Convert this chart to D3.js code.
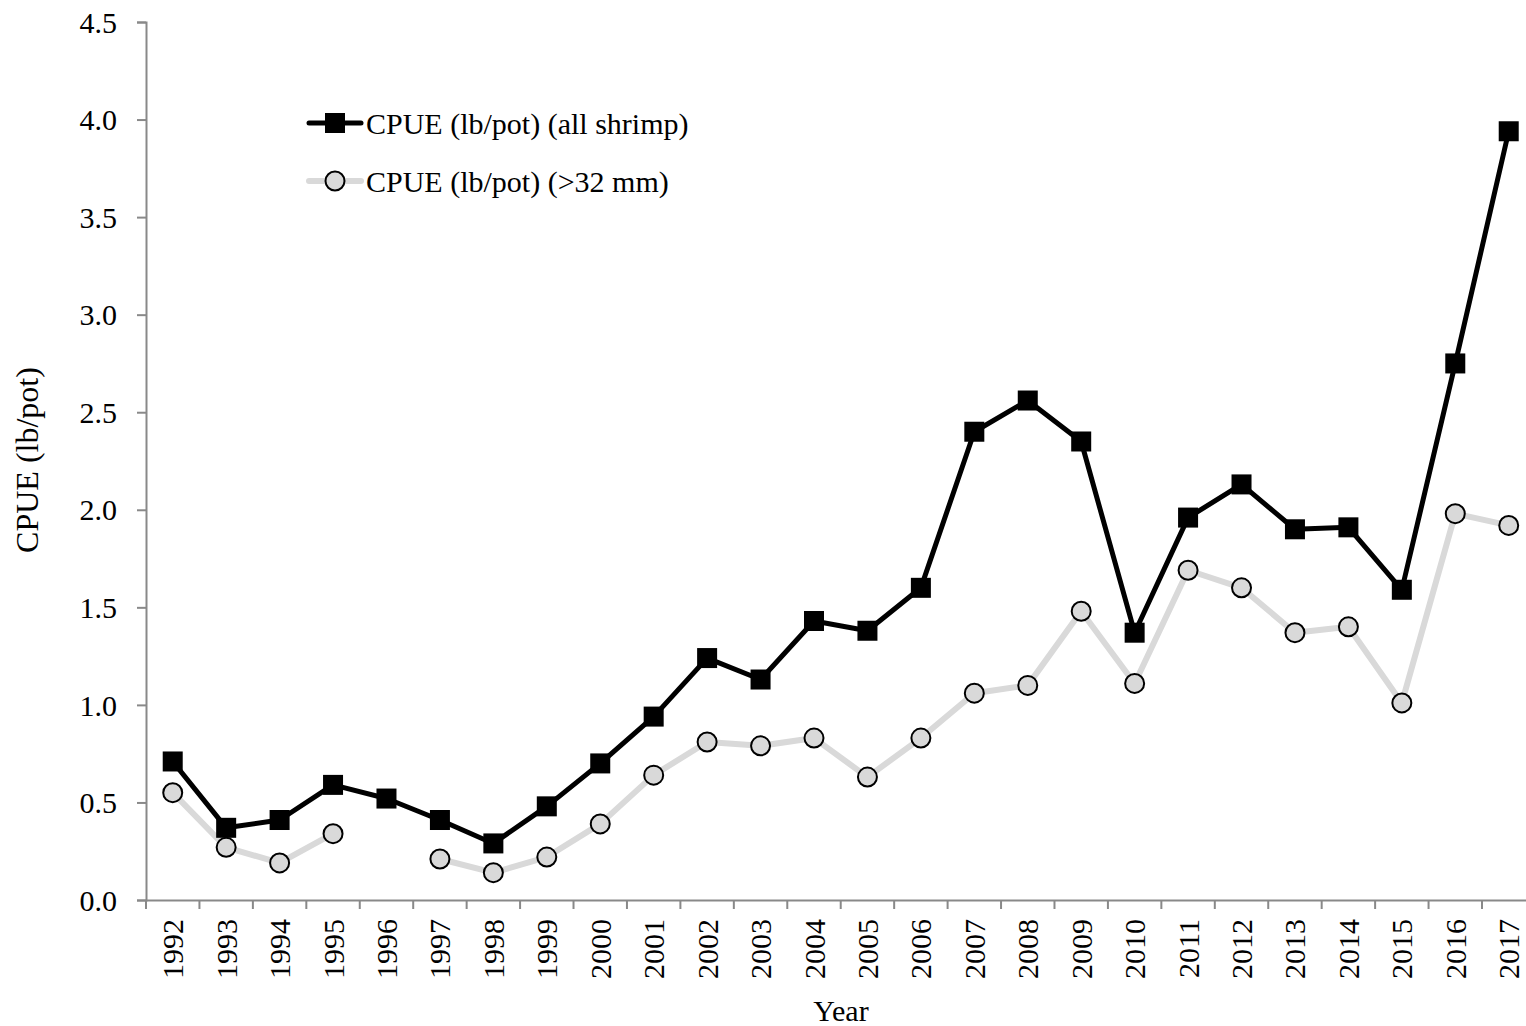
<!DOCTYPE html>
<html>
<head>
<meta charset="utf-8">
<script src="https://cdn.jsdelivr.net/npm/d3@7"></script>
<style>
html,body{margin:0;padding:0;background:#fff;}
svg{display:block;}
text{font-family:"Liberation Serif","Times New Roman",serif;fill:#000;}
</style>
</head>
<body>
<svg id="chart" width="1526" height="1026"></svg>
<script>
const years = ["1992","1993","1994","1995","1996","1997","1998","1999","2000","2001","2002","2003","2004","2005","2006","2007","2008","2009","2010","2011","2012","2013","2014","2015","2016","2017"];
const cpueAll = [0.71,0.37,0.41,0.59,0.52,0.41,0.29,0.48,0.70,0.94,1.24,1.13,1.43,1.38,1.60,2.40,2.56,2.35,1.37,1.96,2.13,1.90,1.91,1.59,2.75,3.94];
const cpue32 = [0.55,0.27,0.19,0.34,null,0.21,0.14,0.22,0.39,0.64,0.81,0.79,0.83,0.63,0.83,1.06,1.10,1.48,1.11,1.69,1.60,1.37,1.40,1.01,1.98,1.92];
const yTicks = [0,0.5,1,1.5,2,2.5,3,3.5,4,4.5];
const seriesNames = ["CPUE (lb/pot) (all shrimp)","CPUE (lb/pot) (>32 mm)"];

const svg = d3.select("#chart");
const mLeft = 146, mRight = 146 + 26*53.44, mTop = 22, mBottom = 900;
const x = d3.scaleBand().domain(years).range([mLeft, mRight]).padding(0);
const y = d3.scaleLinear().domain([0,4.5]).range([mBottom, mTop]);
const axisColor = "#898989";
const fs = 30;

// Y axis
const ya = svg.append("g").attr("transform",`translate(${mLeft},0)`)
  .call(d3.axisLeft(y).tickValues(yTicks).tickSize(9).tickPadding(20).tickFormat(d3.format(".1f")));
ya.select(".domain").attr("stroke",axisColor).attr("stroke-width",2);
ya.selectAll(".tick line").attr("stroke",axisColor).attr("stroke-width",2);
ya.selectAll(".tick text").style("font-size",fs+"px").style("font-family","'Liberation Serif',serif").attr("dy","0.34em");

// X axis
const xa = svg.append("g").attr("transform",`translate(0,${mBottom})`)
  .call(d3.axisBottom(x).tickSize(0).tickPadding(0));
xa.select(".domain").attr("stroke",axisColor).attr("stroke-width",2);
xa.selectAll(".tick line").remove();
const bounds = d3.range(years.length+1).map(i => mLeft + i*x.bandwidth());
xa.selectAll(".btick").data(bounds).enter().append("line")
  .attr("x1",d=>d).attr("x2",d=>d).attr("y1",0).attr("y2",9)
  .attr("stroke",axisColor).attr("stroke-width",2);
xa.selectAll(".tick text")
  .style("font-size",fs+"px").style("font-family","'Liberation Serif',serif")
  .attr("text-anchor","end")
  .attr("transform","translate(0,19) rotate(-90)")
  .attr("x",0).attr("y",0).attr("dy","0.35em");

// Lines
const cx = d => x(d) + x.bandwidth()/2;
const lineGen = vals => d3.line().defined((d,i)=>vals[i]!==null)
  .x((d,i)=>cx(years[i])).y((d,i)=>y(vals[i]));

svg.append("path").datum(years).attr("d",lineGen(cpue32))
  .attr("fill","none").attr("stroke","#d9d9d9").attr("stroke-width",6).attr("stroke-linejoin","round");
svg.append("path").datum(years).attr("d",lineGen(cpueAll))
  .attr("fill","none").attr("stroke","#000").attr("stroke-width",5).attr("stroke-linejoin","round");

// Markers
const sq = 20;
const cr = 9.5;
svg.selectAll(".sq").data(years.map((yr,i)=>({yr,v:cpueAll[i]}))).enter().append("rect")
  .attr("x",d=>cx(d.yr)-sq/2).attr("y",d=>y(d.v)-sq/2).attr("width",sq).attr("height",sq).attr("fill","#000");
svg.selectAll(".ci").data(years.map((yr,i)=>({yr,v:cpue32[i]})).filter(d=>d.v!==null)).enter().append("circle")
  .attr("cx",d=>cx(d.yr)).attr("cy",d=>y(d.v)).attr("r",cr)
  .attr("fill","#d9d9d9").attr("stroke","#000").attr("stroke-width",2);

// Legend
const lg = svg.append("g");
const legY = [123,181];
lg.append("line").attr("x1",309).attr("x2",361).attr("y1",legY[0]).attr("y2",legY[0]).attr("stroke","#000").attr("stroke-width",5).attr("stroke-linecap","round");
lg.append("rect").attr("x",335-sq/2).attr("y",legY[0]-sq/2).attr("width",sq).attr("height",sq).attr("fill","#000");
lg.append("line").attr("x1",309).attr("x2",361).attr("y1",legY[1]).attr("y2",legY[1]).attr("stroke","#d9d9d9").attr("stroke-width",6).attr("stroke-linecap","round");
lg.append("circle").attr("cx",335).attr("cy",legY[1]).attr("r",cr).attr("fill","#d9d9d9").attr("stroke","#000").attr("stroke-width",2);
seriesNames.forEach((n,i)=>{
  lg.append("text").attr("x",366).attr("y",legY[i]).attr("dy","0.35em").style("font-size",fs+"px").text(n);
});

// Axis titles
svg.append("text").attr("x",841).attr("y",1021).attr("text-anchor","middle").style("font-size",fs+"px").text("Year");
svg.append("text").attr("transform",`translate(38,460) rotate(-90)`).attr("text-anchor","middle").style("font-size","32px").text("CPUE (lb/pot)");
</script>
</body>
</html>
